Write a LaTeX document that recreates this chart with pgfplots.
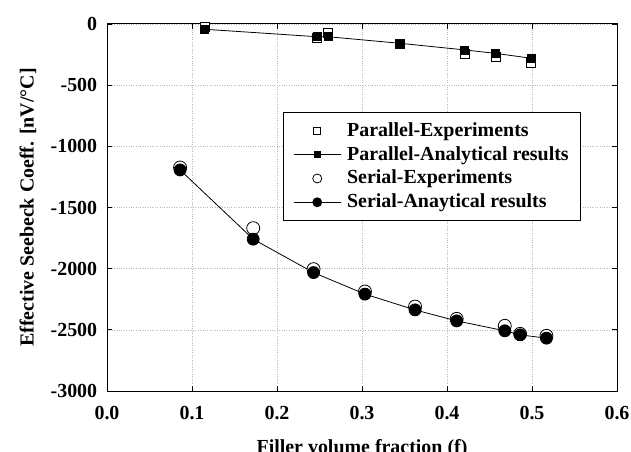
\documentclass[border=0pt]{standalone}
\usepackage{fontspec}
\setmainfont{Liberation Serif}
\usepackage{pgfplots}
\pgfplotsset{compat=1.18}
\begin{document}
\fontsize{20}{23.5}\selectfont\bfseries
\begin{tikzpicture}
\begin{axis}[
  scale only axis, width=510bp, height=367bp,
  xmin=0, xmax=0.6, ymin=-3000, ymax=0,
  xtick={0,0.1,0.2,0.3,0.4,0.5,0.6},
  xticklabels={0.0,0.1,0.2,0.3,0.4,0.5,0.6},
  ytick={-3000,-2500,-2000,-1500,-1000,-500,0},
  yticklabels={-3000,-2500,-2000,-1500,-1000,-500,0},
  grid=major, major grid style={dotted, gray!55, line width=0.6pt},
  tick align=inside, major tick length=5bp,
  tick style={black, line width=0.8pt},
  axis line style={line width=1pt},
  xticklabel style={font=\bfseries, yshift=-8bp},
  yticklabel style={font=\bfseries, xshift=-3bp},
  every axis x label/.style={at={([yshift=-58bp]rel axis cs:0.5,0)}, anchor=center, font=\bfseries},
  every axis y label/.style={at={([xshift=-79bp]rel axis cs:0,0.5)}, anchor=center, rotate=90, font=\bfseries},
  xlabel={Filler volume fraction (f)},
  ylabel={Effective Seebeck Coeff. [nV/°C]},
  legend style={at={(0.345,0.76)}, anchor=north west, draw=black, line width=0.8pt,
    font=\bfseries, row sep=3bp, inner xsep=10bp, inner ysep=8bp, cells={anchor=west},
    column sep=4bp},
  legend cell align=left,
  clip=false,
]
\coordinate (SW) at (rel axis cs:0,0);
\coordinate (NE) at (rel axis cs:1,1);
\addplot[only marks, mark=square*, mark options={fill=white, draw=black, line width=0.8pt}, mark size=4.5bp,
  legend image code/.code={\draw[mark size=3.5bp] plot coordinates {(23.5bp,0)};}]
coordinates {(0.115,-27) (0.247,-117) (0.260,-71) (0.345,-166) (0.421,-248) (0.457,-272) (0.499,-316)};
\addlegendentry{Parallel-Experiments}
\addplot[black, line width=0.8pt, mark=square*, mark options={fill=black}, mark size=4bp,
  legend image code/.code={\draw[mark size=3bp, mark repeat=2, mark phase=2] plot coordinates {(0,0) (23.5bp,0) (47bp,0)};}]
coordinates {(0.115,-43) (0.247,-104) (0.260,-104) (0.345,-158) (0.421,-212) (0.457,-240) (0.499,-280)};
\addlegendentry{Parallel-Analytical results}
\addplot[only marks, mark=*, mark options={fill=white, draw=black, line width=0.8pt}, mark size=6.5bp,
  legend image code/.code={\draw[mark size=4.5bp] plot coordinates {(23.5bp,0)};}]
coordinates {(0.086,-1173) (0.172,-1669) (0.243,-2004) (0.3035,-2187) (0.3624,-2310) (0.4114,-2410) (0.468,-2467) (0.486,-2533) (0.517,-2549)};
\addlegendentry{Serial-Experiments}
\addplot[black, line width=0.8pt, mark=*, mark options={fill=black}, mark size=6bp,
  legend image code/.code={\draw[mark size=4.5bp, mark repeat=2, mark phase=2] plot coordinates {(0,0) (23.5bp,0) (47bp,0)};}]
coordinates {(0.086,-1193) (0.172,-1759) (0.243,-2032) (0.3035,-2208) (0.3624,-2337) (0.4114,-2427) (0.468,-2508) (0.486,-2541) (0.517,-2568)};
\addlegendentry{Serial-Anaytical results}
\end{axis}
\pgfresetboundingbox
\path ([xshift=-107bp,yshift=-61bp]SW) rectangle ([xshift=14bp,yshift=24bp]NE);
\end{tikzpicture}
\end{document}
